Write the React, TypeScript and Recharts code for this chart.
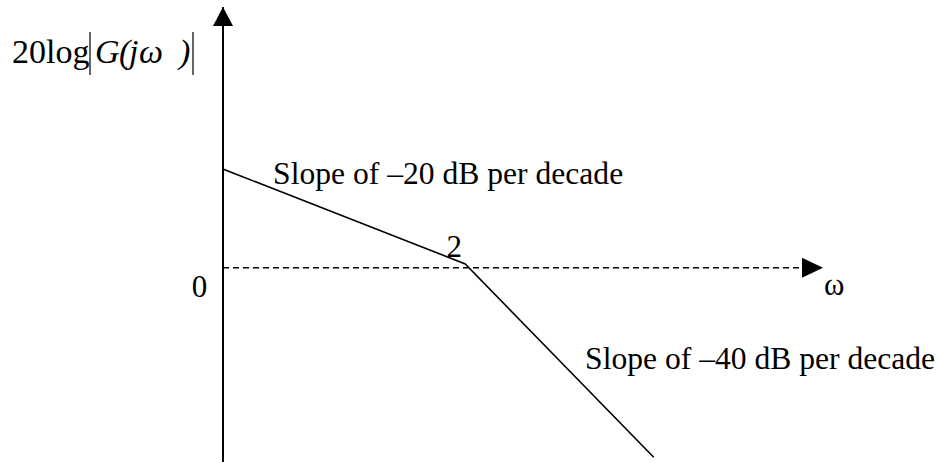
import React from 'react';
import { LineChart, Line, XAxis, YAxis, ReferenceLine, ReferenceDot } from 'recharts';

// Bode magnitude asymptote: corner at ω = 2
const omega = [0.2, 2, 12];
const gainDb = [20.8, 0.8, -40];

const omegaDomain: [number, number] = [0.2, 60];
const dbDomain: [number, number] = [-41, 55];

const slopeLabels = ['Slope of \u201320 dB per decade', 'Slope of \u201340 dB per decade'];
const cornerLabel = '2';
const zeroLabel = '0';
const omegaLabel = '\u03c9';

const data = omega.map((w, i) => ({ w, db: gainDb[i] }));

const FONT = 'Liberation Serif, Times New Roman, serif';

const textStyle = { fontFamily: FONT, fill: '#000' };

const UpArrow = ({ cx, cy }: any) => (
  <polygon points={`${cx - 10},${cy + 19} ${cx},${cy} ${cx + 10},${cy + 19}`} fill="#000" />
);

const RightArrow = ({ cx, cy }: any) => (
  <polygon points={`${cx - 21},${cy - 10} ${cx},${cy} ${cx - 21},${cy + 10}`} fill="#000" />
);

// 20log|G(jω)| drawn to the left of the vertical axis tip
const GainTitle = ({ cx, cy }: any) => {
  const base = cy + 56;
  return (
    <g>
      <text x={cx - 211} y={base} fontSize={34} style={textStyle}>20log</text>
      <line x1={cx - 133} x2={cx - 133} y1={cy + 25} y2={cy + 68} stroke="#000" strokeWidth={1.2} />
      <text y={base} fontSize={34} fontStyle="italic" style={textStyle}>
        <tspan x={cx - 128}>G</tspan>
        <tspan x={cx - 104}>(</tspan>
        <tspan x={cx - 94}>j</tspan>
        <tspan x={cx - 84}>{omegaLabel}</tspan>
        <tspan x={cx - 44}>)</tspan>
      </text>
      <line x1={cx - 30} x2={cx - 30} y1={cy + 25} y2={cy + 68} stroke="#000" strokeWidth={1.2} />
    </g>
  );
};

const textAt = (label: string, dx: number, dy: number, anchor: 'start' | 'middle' = 'start', size = 31) =>
  ({ cx, cy }: any) => (
    <text x={cx + dx} y={cy + dy} fontSize={size} textAnchor={anchor} style={textStyle}>
      {label}
    </text>
  );

export default function App() {
  return (
    <div style={{ position: 'absolute', left: 0, top: 0, width: 941, height: 463, background: '#fff' }}>
      <LineChart
        width={941}
        height={463}
        data={data}
        margin={{ top: 7, right: 118, bottom: 1, left: 223 }}
      >
        <XAxis
          dataKey="w"
          type="number"
          scale="log"
          domain={omegaDomain}
          allowDataOverflow
          hide
        />
        <YAxis type="number" domain={dbDomain} allowDataOverflow hide />
        {/* vertical gain axis */}
        <ReferenceLine x={omegaDomain[0]} stroke="#000" strokeWidth={2} ifOverflow="visible" />
        <ReferenceLine y={0} stroke="#000" strokeWidth={1.4} strokeDasharray="6 4" />
        <Line
          dataKey="db"
          type="linear"
          stroke="#000"
          strokeWidth={1.6}
          dot={false}
          isAnimationActive={false}
        />
        <ReferenceDot x={0.2} y={55} r={0} ifOverflow="visible" shape={UpArrow} />
        <ReferenceDot x={60} y={0} r={0} ifOverflow="visible" shape={RightArrow} />
        <ReferenceDot x={0.2} y={55} r={0} ifOverflow="visible" shape={GainTitle} />
        <ReferenceDot x={0.2} y={0} r={0} ifOverflow="visible" shape={textAt(zeroLabel, -23.5, 29, 'middle')} />
        <ReferenceDot x={60} y={0} r={0} ifOverflow="visible" shape={textAt(omegaLabel, 1, 27)} />
        <ReferenceDot x={omega[1]} y={gainDb[1]} r={0} ifOverflow="visible" shape={textAt(cornerLabel, -11, -7, 'middle')} />
        <ReferenceDot x={0.322} y={17.65} r={0} ifOverflow="visible" shape={textAt(slopeLabels[0], 0, 0, 'start', 31.6)} />
        <ReferenceDot x={6.25} y={-21.4} r={0} ifOverflow="visible" shape={textAt(slopeLabels[1], 0, 0, 'start', 31.6)} />
      </LineChart>
    </div>
  );
}
